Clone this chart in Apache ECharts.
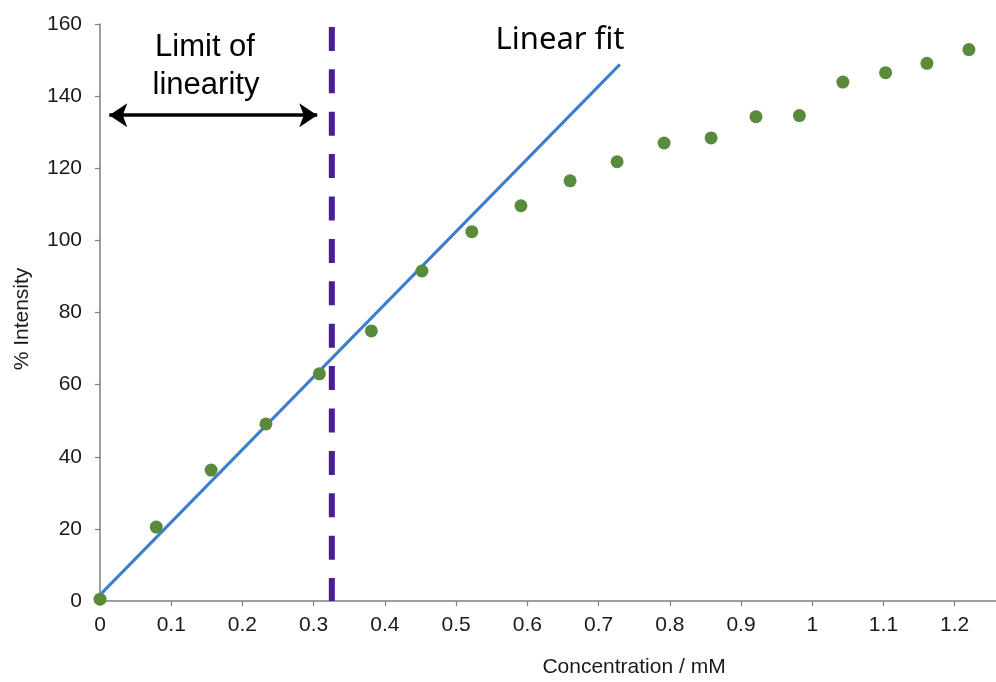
<!DOCTYPE html>
<html>
<head>
<meta charset="utf-8">
<script src="https://cdn.jsdelivr.net/npm/echarts@6/dist/echarts.min.js"></script>
<style>
html,body{margin:0;padding:0;background:#fff;}
#main{width:996px;height:682px;}
</style>
</head>
<body>
<div id="main"></div>
<script>
// Measured data (Concentration / mM vs % Intensity)
var concentration = [0, 0.079, 0.156, 0.233, 0.308, 0.381, 0.452, 0.522, 0.591, 0.660, 0.726, 0.792, 0.858, 0.921, 0.982, 1.043, 1.103, 1.161, 1.220];
var intensity = [0.5, 20.5, 36.3, 49.1, 63.0, 74.9, 91.5, 102.4, 109.6, 116.5, 121.8, 127.0, 128.4, 134.3, 134.6, 143.9, 146.5, 149.1, 152.9];
// Linear fit end points
var fitX = [0, 0.73];
var fitY = [1.7, 148.8];
// Limit of linearity
var limitX = 0.3255;
var limitYRange = [159.2, 0];
// Arrow annotation
var arrowX = [0.013, 0.305];
var arrowY = 134.7;
var xTicks = {min: 0, max: 1.258, interval: 0.1};
var yTicks = {min: 0, max: 160, interval: 20};

var chart = echarts.init(document.getElementById('main'), null, {renderer: 'canvas'});

function pairs(xs, ys) { return xs.map(function (x, i) { return [x, ys[i]]; }); }

var option = {
  animation: false,
  backgroundColor: '#ffffff',
  grid: {left: 100, right: 0, top: 24, bottom: 81, containLabel: false},
  xAxis: {
    type: 'value', min: xTicks.min, max: xTicks.max, interval: xTicks.interval,
    axisLine: {show: true, lineStyle: {color: '#7f7f7f', width: 1.5}},
    axisTick: {show: true, inside: false, length: 5, lineStyle: {color: '#7f7f7f', width: 1.2}},
    splitLine: {show: false},
    axisLabel: {
      color: '#1a1a1a', fontFamily: 'Liberation Sans', fontSize: 21, margin: 14,
      showMaxLabel: false,
      formatter: function (v) { return v > 1.21 ? '' : String(Math.round(v * 10) / 10); }
    }
  },
  yAxis: {
    type: 'value', min: yTicks.min, max: yTicks.max, interval: yTicks.interval,
    axisLine: {show: true, lineStyle: {color: '#7f7f7f', width: 1.5}},
    axisTick: {show: true, inside: false, length: 5, lineStyle: {color: '#7f7f7f', width: 1.2}},
    splitLine: {show: false},
    axisLabel: {color: '#1a1a1a', fontFamily: 'Liberation Sans', fontSize: 21, margin: 18}
  },
  graphic: [
    {type: 'text', x: 634, y: 667, style: {text: 'Concentration / mM', fill: '#1a1a1a', font: '21px "Liberation Sans"', align: 'center', verticalAlign: 'middle'}},
    {type: 'text', x: 22, y: 319, rotation: Math.PI / 2, style: {text: '% Intensity', fill: '#1a1a1a', font: '21px "Liberation Sans"', align: 'center', verticalAlign: 'middle'}},
    {type: 'text', x: 205, y: 47, style: {text: 'Limit of', fill: '#000', font: '31px "Liberation Sans"', align: 'center', verticalAlign: 'middle'}},
    {type: 'text', x: 206, y: 85, style: {text: 'linearity', fill: '#000', font: '31px "Liberation Sans"', align: 'center', verticalAlign: 'middle'}},
    {type: 'text', x: 560, y: 40, style: {text: 'Linear fit', fill: '#000', font: '31px "Noto Sans"', align: 'center', verticalAlign: 'middle'}}
  ],
  series: [
    {
      type: 'line', data: pairs(fitX, fitY), showSymbol: false, symbol: 'none',
      lineStyle: {color: '#3b7dd0', width: 3}, z: 3
    },
    {
      type: 'line', data: [[limitX, limitYRange[0]], [limitX, limitYRange[1]]], showSymbol: false, symbol: 'none',
      lineStyle: {color: '#4a1f96', width: 6, type: [24, 18.4]}, z: 4
    },
    {
      type: 'scatter', data: pairs(concentration, intensity), symbol: 'circle', symbolSize: 13,
      itemStyle: {color: '#5a8a3c', opacity: 1}, z: 5
    },
    {
      type: 'line', data: [], symbol: 'none',
      markLine: {
        silent: true, animation: false,
        symbol: ['arrow', 'arrow'], symbolSize: [18, 18],
        label: {show: false},
        lineStyle: {color: '#000', width: 3.5, type: 'solid'},
        data: [[{coord: [arrowX[0], arrowY]}, {coord: [arrowX[1], arrowY]}]]
      }
    }
  ]
};
chart.setOption(option);
</script>
</body>
</html>
